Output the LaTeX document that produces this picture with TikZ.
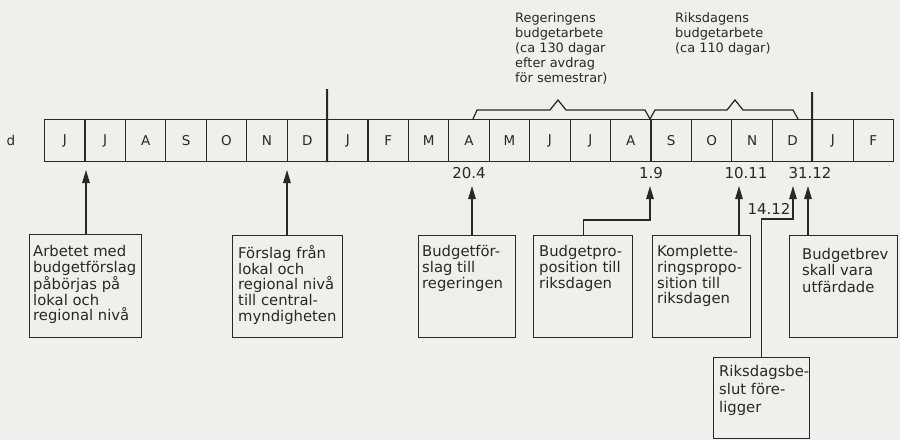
\documentclass[tikz,border=0pt]{standalone}
\usepackage{fontspec}
\setmainfont{DejaVu Sans}
\usetikzlibrary{arrows.meta}
\definecolor{bg}{RGB}{239,239,235}
\definecolor{ink}{RGB}{40,40,40}
\begin{document}
\begin{tikzpicture}[x=1pt,y=-1pt,
  cell/.style={draw=ink, line width=1.1pt, minimum width=40.43pt, minimum height=42pt, inner sep=0pt, anchor=north west, font=\fontsize{13.5}{15}\selectfont, text=ink},
  evbox/.style={draw=ink, line width=1.2pt, anchor=north west, inner sep=0pt},
  evtext/.style={anchor=north west, inner sep=0pt, align=left, font=\fontsize{14.8}{15.8}\selectfont, text=ink},
  head/.style={anchor=north west, inner sep=0pt, align=left, font=\fontsize{12.9}{15.2}\selectfont, text=ink},
  datelbl/.style={inner sep=0pt, font=\fontsize{15}{16}\selectfont, text=ink},
  arr/.style={draw=ink, line width=1.2pt, -{Triangle[length=13pt,width=7.5pt]}},
  bracket/.style={draw=ink, line width=1.2pt, line join=miter},
  yearline/.style={draw=ink, line width=2pt}]
\fill[bg] (0,0) rectangle (900,440);
\useasboundingbox (0,0) rectangle (900,440);

% stray letter at left
\node[inner sep=0pt, font=\fontsize{13.5}{15}\selectfont, text=ink] (dl) at (11,140) {d};

% month cells
\foreach \m [count=\i from 0] in {J,J,A,S,O,N,D,J,F,M,A,M,J,J,A,S,O,N,D,J,F}
  \node[cell] (c\i) at (44+40.43*\i,119) {\m};

% year boundaries
\coordinate (y1) at (327.0,89);
\coordinate (y2) at (812.2,92);
\draw[yearline] (y1) -- (c7.south west);
\draw[yearline] (y2) -- (c19.south west);

% brackets
\draw[bracket] (473,119) -- (477,110) -- (550,110) -- (558,100) -- (566,110) -- (645,110) -- (650,119);
\draw[bracket] (650,119) -- (655,110) -- (727,110) -- (735,100) -- (743,110) -- (793,110) -- (798,119);

% headers
\node[head] (hreg) at (515,12) {Regeringens\\budgetarbete\\(ca 130 dagar\\efter avdrag\\för semestrar)};
\node[head] (hrik) at (675,12) {Riksdagens\\budgetarbete\\(ca 110 dagar)};

% dates
\node[datelbl] (d204) at (469,173) {20.4};
\node[datelbl] (d19) at (651,173) {1.9};
\node[datelbl] (d1011) at (746,173) {10.11};
\node[datelbl] (d3112) at (810,173) {31.12};
\node[datelbl] (d1412) at (769,208.5) {14.12};

% event boxes
\node[evbox, minimum width=112pt, minimum height=103pt] (b1) at (29,234) {};
\node[evbox, minimum width=110pt, minimum height=102pt] (b2) at (232,235) {};
\node[evbox, minimum width=97pt, minimum height=102pt] (b3) at (418,235) {};
\node[evbox, minimum width=99pt, minimum height=102pt] (b4) at (533,235) {};
\node[evbox, minimum width=98pt, minimum height=102pt] (b5) at (652,235) {};
\node[evbox, minimum width=96pt, minimum height=81pt] (b6) at (713,357) {};
\node[evbox, minimum width=108pt, minimum height=102pt] (b7) at (789,235) {};

\node[evtext] (t1) at (33,245) {Arbetet med\\budgetförslag\\påbörjas på\\lokal och\\regional nivå};
\node[evtext] (t2) at (238,245) {Förslag från\\lokal och\\regional nivå\\till central-\\myndigheten};
\node[evtext] (t3) at (422,245) {Budgetför-\\slag till\\regeringen};
\node[evtext] (t4) at (539,245) {Budgetpro-\\position till\\riksdagen};
\node[evtext] (t5) at (657,245) {Komplette-\\ringspropo-\\sition till\\riksdagen};
\node[evtext, font=\fontsize{14.8}{18}\selectfont] (t6) at (719,365) {Riksdagsbe-\\slut före-\\ligger};
\node[evtext, font=\fontsize{14.8}{16.5}\selectfont] (t7) at (802,248) {Budgetbrev\\skall vara\\utfärdade};

% arrow targets
\coordinate (k1) at (86,170);
\coordinate (k2) at (287,170);
\coordinate (k3) at (472,186);
\coordinate (k4) at (650,186);
\coordinate (h4) at (650,220);
\coordinate (k5) at (739,186);
\coordinate (k6) at (793,186);
\coordinate (h6) at (793,219);
\coordinate (k7) at (808,186);

% connectors
\draw[arr] (k1 |- b1.north) -- (k1);
\draw[arr] (k2 |- b2.north) -- (k2);
\draw[arr] (k3 |- b3.north) -- (k3);
\draw[arr] (b4.north) |- (h4) -- (k4);
\draw[arr] (k5 |- b5.north) -- (k5);
\draw[arr] (b6.north) |- (h6) -- (k6);
\draw[arr] (k7 |- b7.north) -- (k7);
\end{tikzpicture}
\end{document}
